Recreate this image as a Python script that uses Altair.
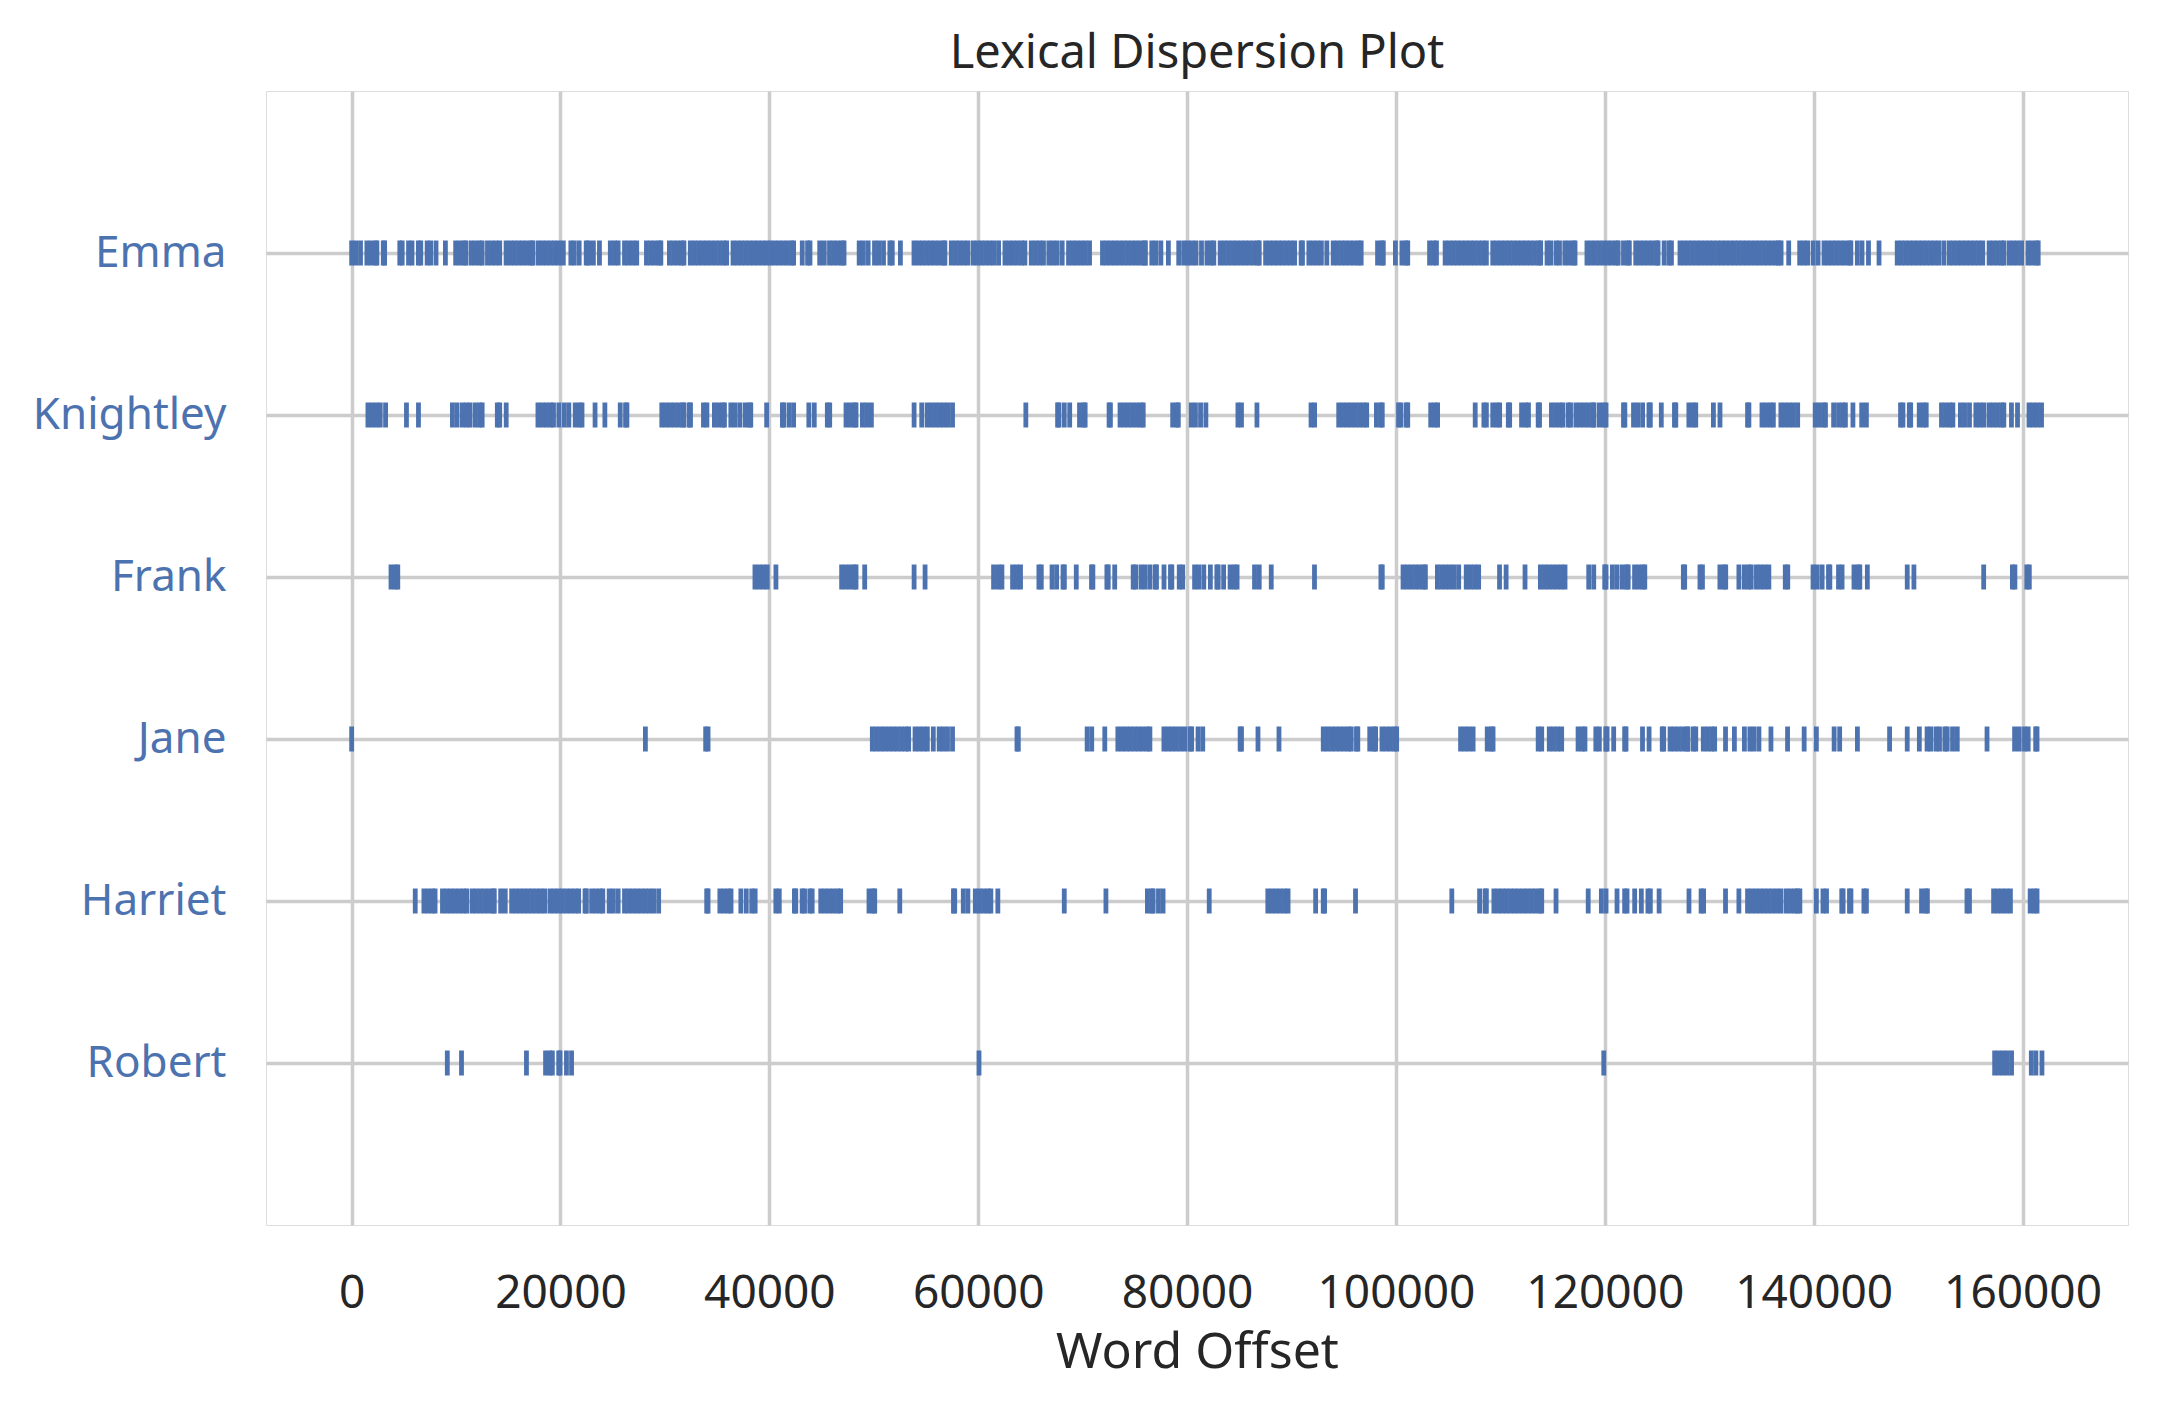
import altair as alt
import pandas as pd

words = ["Emma", "Knightley", "Frank", "Jane", "Harriet", "Robert"]

emma = [0, 400, 850, 1460, 1860, 2260, 2420, 3030, 3160, 4610, 4840, 5450, 5780, 6390, 6620, 7230, 7570, 8080, 8980,
        9960, 10360, 10760, 10930, 11430, 11830, 12230, 12500, 13010, 13410, 13810, 14180,
        14790, 15190, 15590, 15990, 16390, 16790, 17190, 17330, 17840, 18240, 18640, 19040, 19440, 19840, 20270,
        20990, 21320, 21790, 22460, 22690, 23150, 23730, 24770, 25170, 25520, 26130, 26530, 26930, 27300,
        28230, 28630, 29030, 29430, 29610, 30430, 30830, 31230, 31630, 31820,
        32430, 32830, 33230, 33630, 34030, 34430, 34830, 35230, 35630, 35910,
        36520, 36920, 37320, 37720, 38120, 38520, 38920, 39320, 39720, 40120, 40520, 40920, 41320, 41720, 42120, 42320,
        43150, 43660, 43890, 44820, 45260, 45760, 46160, 46560, 46960, 47150, 48600, 49000, 49460,
        50070, 50470, 50930, 51540, 51770, 52550,
        53850, 54250, 54650, 55050, 55450, 55850, 56250, 56650, 56810, 57420, 57820, 58220, 58620, 59010,
        59510, 59910, 60310, 60710, 61110, 61510, 61950, 62560, 62960, 63360, 63760, 64160, 64470,
        65080, 65480, 65880, 66250, 66760, 67160, 67560, 68040, 68650, 69050, 69450, 69850, 70250, 70660,
        71900, 72300, 72700, 73100, 73500, 73900, 74300, 74700, 75100, 75500, 75900, 76010,
        76620, 77020, 77490, 78210, 79200, 79670, 80070, 80470, 80860, 81380, 81900, 82300, 82560,
        83170, 83570, 83970, 84370, 84770, 85170, 85570, 85970, 86370, 86770, 86910,
        87520, 87920, 88320, 88720, 89120, 89520, 89920, 90300, 90920, 91050,
        91660, 92060, 92460, 92860, 93380, 93990, 94390, 94790, 95190, 95590, 95990, 96390, 96670,
        98240, 98640, 98790, 99950, 100570, 100970, 101130, 103220, 103620, 103880,
        104710, 105110, 105510, 105910, 106310, 106710, 107110, 107510, 107910, 108310, 108660,
        109270, 109670, 110070, 110470, 110870, 111270, 111670, 112070, 112470, 112870, 113270, 113670, 113860,
        114470, 114810, 115320, 115660, 116170, 116570, 116970, 117150,
        118290, 118690, 119090, 119490, 119890, 120290, 120690, 121090, 121280, 121790, 122190, 122350,
        122960, 123360, 123760, 124160, 124560, 124960, 125100, 125680, 126140, 126380,
        127200, 127600, 128000, 128400, 128800, 129200, 129600, 130000, 130400, 130800, 131200, 131600,
        132000, 132400, 132800, 133200, 133600, 134000, 134400, 134800, 135200, 135600, 136000, 136400,
        136650, 136880, 137610, 138660, 139060, 139430, 139950, 140420,
        140990, 141390, 141790, 142190, 142590, 142990, 143390, 143560, 144180, 144630, 145250, 146260,
        148000, 148400, 148800, 149200, 149600, 150000, 150400, 150800, 151200, 151600, 152000, 152480,
        152990, 153390, 153790, 154190, 154590, 154990, 155390, 155790, 156190,
        156800, 157200, 157600, 158000, 158210, 158710, 159110, 159510, 159910, 160520, 160920, 161320, 161500]

knightley = [1560, 1960, 2360, 2740, 3250, 5250, 6400, 9650, 10090, 10590, 10990, 11350, 11850, 12250, 12500,
             13950, 14180, 14800, 17840, 18240, 18640, 19040, 19330, 19840, 20360, 20800, 21410, 21810, 22060,
             23310, 24250, 25720, 26230, 26360, 29700, 30100, 30500, 30900, 31300, 31700, 31820, 32320, 32450,
             33690, 34020, 34740, 35140, 35540, 35700, 36310, 36710, 37170, 37680, 38080, 38220, 39740,
             41250, 41370, 41880, 42320, 43780, 44300, 45550, 45780, 47340, 47740, 48140, 48300,
             48910, 49310, 49770, 53860, 54590, 55110, 55510, 55910, 56310, 56710, 57110, 57540,
             64560, 67600, 67730, 68240, 68760, 69700, 70100, 70240, 72530, 72660,
             73580, 73980, 74380, 74780, 75180, 75580, 75800, 78620, 79020, 79160, 80400, 80800, 81290, 81800,
             84870, 85210, 86690, 91870, 92210, 94520, 94920, 95320, 95720, 96120, 96520, 96920, 97200,
             98130, 98530, 98690, 100250, 100490, 101000, 101130, 103330, 103730, 103990,
             107590, 108420, 108660, 109270, 109670, 109930, 110760, 110890, 112030, 112430, 112690,
             113620, 113750, 114890, 115290, 115690, 115980, 116490, 116720,
             117230, 117630, 118030, 118430, 118830, 118950, 119460, 119860, 120120, 121790, 121920,
             122750, 123150, 123620, 124230, 124360, 125410, 126670, 126800, 128050, 128450, 128710,
             130400, 131030, 133670, 133800, 135050, 135450, 135850, 136140,
             136860, 137260, 137660, 138060, 138470, 140150, 140550, 140950, 141130, 141910,
             142380, 142780, 143040, 143760, 144600, 145050, 148320, 148550, 149160, 149290,
             150110, 150510, 150780, 152240, 152640, 153040, 153330, 154050, 154450, 154920,
             155530, 155930, 156300, 156800, 157200, 157600, 158000, 158210, 158940, 159520,
             160620, 161020, 161420, 161820]

frank = [3770, 4170, 4420, 38620, 39020, 39420, 39800, 40630, 46920, 47320, 47720, 48120, 48300, 49130,
         53860, 54910, 61470, 61930, 62270, 63290, 63690, 64050, 65810, 66040, 67070, 67510, 68120, 68250,
         69390, 70850, 70980, 72320, 72450, 73070, 74840, 75070, 75580, 75980, 76440, 76940, 77070, 77790,
         78410, 78540, 79250, 79580, 80720, 81120, 81600, 82230, 82850, 82980, 83500, 84120, 84520, 84790,
         86460, 86910, 88060, 92200, 98560, 98690,
         100680, 101080, 101480, 101880, 102280, 102680, 102820, 103970, 104370, 104770, 105170, 105570, 106010,
         106730, 107130, 107530, 107920, 109920, 110550, 112360,
         113830, 114230, 114630, 115030, 115430, 115830, 116190, 118460, 118940, 119990, 120120,
         120730, 121180, 121680, 122080, 122240, 122850, 123250, 123650, 123830, 127520, 127650,
         129110, 129350, 131020, 131420, 131580, 132840, 133360, 133760, 134020,
         134520, 134920, 135320, 135710, 137280, 137520, 139940, 140340, 140810, 141420, 141550,
         142380, 142720, 143860, 144260, 144420, 145140, 148960, 149600, 156280, 159030, 159270, 160410, 160650]

jane = [0, 28130, 33900, 34130, 49860, 50260, 50660, 51060, 51460, 51860, 52260, 52660, 53060, 53340,
        53950, 54350, 54750, 55130, 55700, 56260, 56660, 57060, 57540, 63710, 63840, 70430, 70870, 72120,
        73370, 73770, 74170, 74570, 74970, 75370, 75770, 76170, 76440,
        77780, 78180, 78580, 78980, 79380, 79800, 80300, 80440, 81050, 81500, 85080, 85210, 86790, 88800,
        93040, 93440, 93840, 94240, 94640, 95040, 95440, 95720, 96220, 96350, 97490, 97890, 98050,
        98660, 99060, 99460, 99860, 100070, 106190, 106590, 106990, 107390, 108740, 109140, 109300,
        113620, 113960, 114680, 115080, 115480, 115870, 117440, 117840, 118100, 119140, 119480,
        120090, 120220, 120850, 121900, 122030, 123610, 124240, 125500, 125640,
        126250, 126650, 127050, 127450, 127850, 127970, 128480, 128710, 129430, 129830, 130230, 130520,
        131560, 132410, 133370, 133890, 134290, 134760, 135910, 137500, 139090, 140260, 141960, 142490,
        144190, 147270, 148960, 150120, 150860, 151210, 151710, 152050, 152560, 152790, 153300, 153750,
        156600, 159240, 159690, 160190, 160540, 161260, 161390]

harriet = [6090, 6920, 7320, 7720, 7990, 8700, 9100, 9500, 9900, 10300, 10700, 11030,
           11540, 11940, 12340, 12740, 13140, 13540, 13660, 14270, 14710,
           15320, 15720, 16120, 16520, 16920, 17320, 17720, 18120, 18490,
           18990, 19390, 19790, 20190, 20590, 20990, 21390, 21740, 22350, 22480, 22980, 23380, 23780, 24050,
           24660, 25060, 25520, 26130, 26530, 26930, 27330, 27730, 28130, 28530, 28930, 29400,
           34000, 34130, 35260, 35660, 36060, 36330, 37270, 37790, 38310, 38640, 40620, 40950,
           42400, 42530, 43140, 43370, 43870, 44100, 44920, 45320, 45720, 46120, 46520, 46830,
           49540, 49940, 50090, 52490, 57630, 57750, 58570, 59010, 59720, 60120, 60520, 60920, 61210, 61880,
           68240, 72230, 76200, 76600, 76750, 77260, 77700, 82120,
           87730, 88130, 88530, 88930, 89330, 89670, 92310, 93040, 93170, 96130, 105350, 108010, 108530, 108660,
           109380, 109780, 110180, 110580, 110980, 111380, 111780, 112180, 112580, 112980, 113380, 113780, 113960,
           115330, 118410, 119670, 120120, 121170, 121900, 122130, 122860, 123500, 124130, 124360, 125200,
           128060, 129220, 129460, 131560, 132840,
           133670, 134070, 134470, 134870, 135270, 135670, 136070, 136470, 136880,
           137390, 137790, 138190, 138440, 138680, 140260, 140890, 141230, 142690, 142820, 143430, 143570,
           144810, 145050, 148960, 150330, 150730, 150890, 154680, 154920,
           157230, 157630, 158030, 158430, 158840, 160730, 161130, 161390]

robert = [9160, 10520, 16740, 18570, 18970, 19220, 19830, 19960, 20570, 21060, 60075, 119900,
          157330, 157730, 158130, 158530, 158950, 160840, 161280, 161860]

x_ticks = [0, 20000, 40000, 60000, 80000, 100000, 120000, 140000, 160000]

series = [emma, knightley, frank, jane, harriet, robert]
rows = []
n = len(words)
for i, (w, offs) in enumerate(zip(words, series)):
    for o in offs:
        rows.append({"word": w, "row": n - 1 - i, "offset": o})
df = pd.DataFrame(rows)

label_list = "[" + ",".join("'" + w + "'" for w in reversed(words)) + "]"

FONT = "Noto Sans"
BLUE = "#4c72b0"
GRID = "#cccccc"
TEXT = "#262626"

chart = alt.Chart(df).mark_tick(
    orient="vertical", color=BLUE, thickness=4.8, size=25, opacity=1
).encode(
    x=alt.X("offset:Q",
            scale=alt.Scale(domain=[-8200, 170100], nice=False, zero=False),
            axis=alt.Axis(values=x_ticks, format="d", title="Word Offset",
                          grid=True, gridColor=GRID, gridWidth=3.5,
                          domain=False, ticks=False, labelPadding=46,
                          labelFont=FONT, labelFontSize=46, labelColor=TEXT,
                          titleFont=FONT, titleFontSize=50, titleColor=TEXT,
                          titleFontWeight="normal", titlePadding=11)),
    y=alt.Y("row:Q",
            scale=alt.Scale(domain=[-1, 6], nice=False, zero=False),
            axis=alt.Axis(values=list(range(n)), labelExpr=label_list + "[datum.value]",
                          title=None, grid=True, gridColor=GRID, gridWidth=3.5,
                          domain=False, ticks=False, labelPadding=40, labelLimit=400,
                          labelFont=FONT, labelFontSize=44, labelColor=BLUE)),
).properties(
    width=1862,
    height=1134,
    title=alt.TitleParams("Lexical Dispersion Plot", font=FONT, fontSize=47,
                          fontWeight="normal", color=TEXT, offset=13),
    autosize=alt.AutoSizeParams(type="none"),
    padding={"left": 266, "top": 91, "right": 29, "bottom": 178},
).configure_view(
    stroke=GRID, strokeWidth=4
).configure(background="white")

chart.save("out.html", embed_options={"renderer": "svg", "actions": False})
